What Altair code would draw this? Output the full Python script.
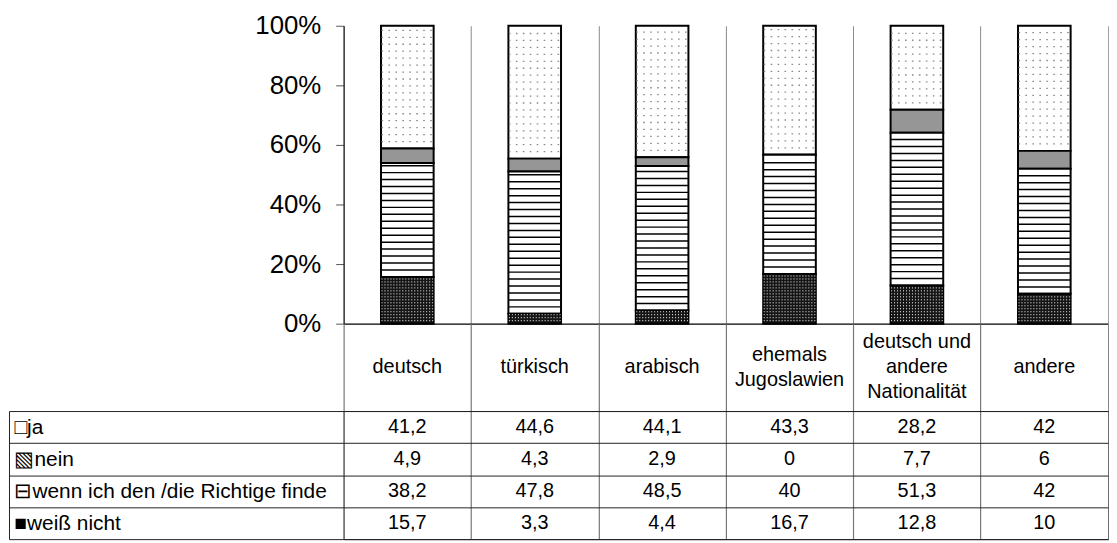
import altair as alt
import pandas as pd

# ---------------- data ----------------
categories = ["deutsch", "türkisch", "arabisch", "ehemals Jugoslawien",
              "deutsch und andere Nationalität", "andere"]
header_lines = [["deutsch"], ["türkisch"], ["arabisch"], ["ehemals", "Jugoslawien"],
                ["deutsch und", "andere", "Nationalität"], ["andere"]]
series = ["ja", "nein", "wenn ich den /die Richtige finde", "weiß nicht"]
series_symbols = ["□", "▧", "⊟", "■"]
ja = [41.2, 44.6, 44.1, 43.3, 28.2, 42]
nein = [4.9, 4.3, 2.9, 0, 7.7, 6]
wenn = [38.2, 47.8, 48.5, 40, 51.3, 42]
weiss = [15.7, 3.3, 4.4, 16.7, 12.8, 10]
stack_order = [3, 2, 1, 0]          # 0 = bottom of the stack
y_ticks = [0, 0.2, 0.4, 0.6, 0.8, 1.0]
series_fill = ["#ffffff", "#969696", "#ffffff", "#151515"]

row_labels = [sym + s for sym, s in zip(series_symbols, series)]
rows = []
for s, lab, order, vals in zip(series, row_labels, stack_order, [ja, nein, wenn, weiss]):
    for c, v in zip(categories, vals):
        rows.append({"cat": c, "series": s, "label": lab, "order": order, "value": v})
df = pd.DataFrame(rows)

# header text lines: half-line slots 0..4, centred on slot 2
header_rows = []
for c, lines in zip(categories, header_lines):
    n = len(lines)
    for i, t in enumerate(lines):
        header_rows.append({"cat": c, "slot": 2 - (n - 1) + 2 * i, "text": t})
hdf = pd.DataFrame(header_rows)
slot_domain = list(range(-1, 6))

# ---------------- layout constants ----------------
FONT = "Liberation Sans"
STEP = 128.3
W = round(STEP * len(categories), 1)
PLOT_H = 300
HEADER_H = 88
TABLE_H = 129
LEFT = 337
BAR = 53

cat_scale = alt.Scale(domain=categories, paddingInner=0, paddingOuter=0)

# ---------------- top: stacked 100% bars ----------------
x_top = alt.X(
    "cat:N", sort=categories, scale=cat_scale,
    axis=alt.Axis(title=None, tickBand="extent", grid=True, gridColor="#8a8a8a", gridWidth=1,
                  domain=True, domainColor="black", domainWidth=1.2,
                  ticks=False, labels=False, minExtent=0, maxExtent=0),
)
y_top = alt.Y(
    "y0:Q",
    scale=alt.Scale(domain=[0, 1], nice=False),
    axis=alt.Axis(title=None, values=y_ticks, format=".0%", grid=False,
                  domainColor="black", domainWidth=1, tickColor="#555", tickSize=8,
                  labelPadding=15, labelFont=FONT, labelFontSize=26, labelColor="black",
                  minExtent=LEFT, maxExtent=LEFT),
)

base = alt.Chart(df).transform_stack(
    stack="value", groupby=["cat"], as_=["y0", "y1"], offset="normalize",
    sort=[alt.SortField("order", "ascending")],
)

bars = base.mark_bar(size=BAR, stroke="black", strokeWidth=2).encode(
    x=x_top, y=y_top, y2="y1:Q",
    fill=alt.Fill("series:N", scale=alt.Scale(domain=series, range=series_fill), legend=None),
)


def pattern(sname, step_px, dash, color, width):
    s = step_px / PLOT_H
    return (
        base.transform_filter(alt.datum.series == sname)
        .transform_calculate(lines=f"sequence(datum.y0 + {s}, datum.y1 - {s * 0.3}, {s})")
        .transform_flatten(["lines"], as_=["line"])
        .mark_rule(xOffset=-BAR / 2 + 0.5, x2Offset=BAR / 2 - 0.5, strokeDash=dash,
                   stroke=color, strokeWidth=width)
        .encode(x=alt.X("cat:N", sort=categories), x2=alt.X2("cat"), y=alt.Y("line:Q"))
    )


wenn_lines = pattern(series[2], 7, [1, 0], "black", 1.5)
ja_dots = pattern(series[0], 7, [1.6, 5.4], "#8a8a8a", 1.3)
weiss_dots = pattern(series[3], 3, [1, 2], "#ffffff", 1)

top = alt.layer(bars, wenn_lines, ja_dots, weiss_dots).properties(width=W, height=PLOT_H)

# ---------------- header row (category names) ----------------
header = (
    alt.Chart(hdf)
    .mark_text(font=FONT, fontSize=20, color="black", baseline="middle", align="center")
    .encode(
        x=alt.X("cat:N", sort=categories, scale=cat_scale,
                axis=alt.Axis(title=None, labels=False, ticks=False, domain=False, grid=True,
                              tickBand="extent", gridColor="#777", gridWidth=1.2,
                              minExtent=0, maxExtent=0)),
        y=alt.Y("slot:O", sort=slot_domain,
                scale=alt.Scale(type="band", domain=slot_domain, paddingInner=0, paddingOuter=0),
                axis=None),
        text="text:N",
    )
    .properties(width=W, height=HEADER_H)
)

# ---------------- bottom: data table ----------------
x_tab = alt.X(
    "cat:N", sort=categories, scale=cat_scale,
    axis=alt.Axis(title=None, orient="top", labels=False, ticks=False, domain=False, grid=True,
                  tickBand="extent", gridColor="#777", gridWidth=1.2, minExtent=0, maxExtent=0),
)
row_scale = alt.Scale(domain=row_labels, paddingInner=0, paddingOuter=0)
y_tab = alt.Y(
    "label:N", sort=row_labels, scale=row_scale,
    axis=alt.Axis(title=None, orient="left", domain=False, ticks=True, tickSize=LEFT,
                  tickColor="#222", tickWidth=1, tickBand="extent",
                  grid=True, gridColor="#222", gridWidth=1,
                  labelAlign="left", labelBaseline="middle", labelPadding=-5,
                  labelFont=FONT, labelFontSize=21, labelColor="black", labelLimit=0,
                  minExtent=LEFT, maxExtent=LEFT),
)
y_border = alt.Y(
    "label:N", sort=row_labels, scale=row_scale,
    axis=alt.Axis(title=None, orient="left", offset=LEFT, domain=True, domainColor="#222",
                  domainWidth=1, ticks=False, labels=False, grid=False,
                  minExtent=0, maxExtent=LEFT),
)

numbers = (
    alt.Chart(df)
    .transform_calculate(txt="replace(toString(datum.value), '.', ',')")
    .mark_text(font=FONT, fontSize=20, color="black", baseline="middle", align="center")
    .encode(x=x_tab, y=y_tab, text="txt:N")
)
border = alt.Chart(df).mark_point(opacity=0).encode(y=y_border)

table = (
    alt.layer(numbers, border)
    .resolve_axis(y="independent")
    .properties(width=W, height=TABLE_H, view=alt.ViewBackground(stroke="#222", strokeWidth=1))
)

chart = (
    alt.vconcat(top, header, table, spacing=0, bounds="flush")
    .properties(padding={"left": 0, "top": 2, "right": 0, "bottom": 0})
    .configure_view(stroke="transparent")
)

chart.save("out.html", embed_options={"renderer": "svg", "actions": False})
